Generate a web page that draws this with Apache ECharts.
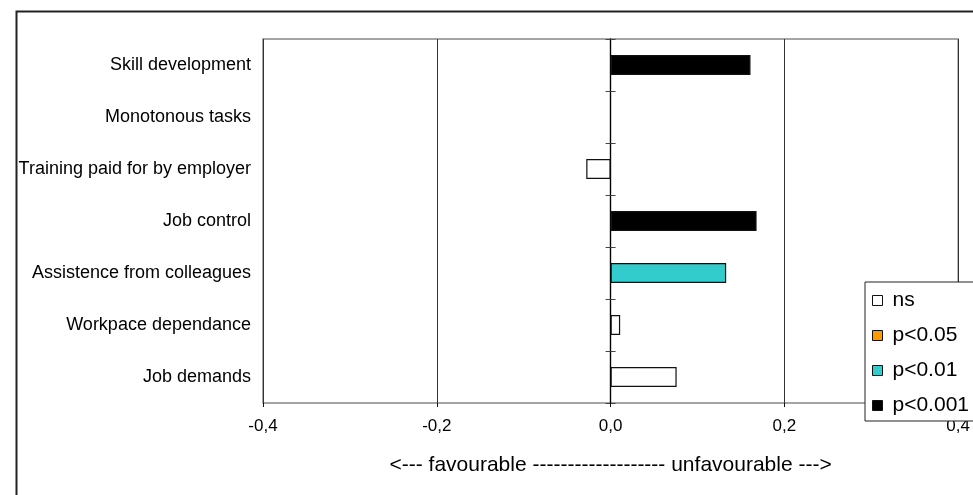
<!DOCTYPE html>
<html>
<head>
<meta charset="utf-8">
<script src="https://cdn.jsdelivr.net/npm/echarts@6/dist/echarts.min.js"></script>
<style>html,body{margin:0;padding:0;background:#fff}#c{width:973px;height:495px}</style>
</head>
<body>
<div id="c"></div>
<script>
// Data (top to bottom)
var categories = ['Skill development', 'Monotonous tasks', 'Training paid for by employer', 'Job control', 'Assistence from colleagues', 'Workpace dependance', 'Job demands'];
var values = [0.161, null, -0.028, 0.168, 0.133, 0.011, 0.076];
var significance = ['p<0.001', 'ns', 'ns', 'p<0.001', 'p<0.01', 'ns', 'ns'];
var classes = ['ns', 'p<0.05', 'p<0.01', 'p<0.001'];
var classColors = ['#ffffff', '#ff9900', '#33cccc', '#000000'];
var xTicks = [-0.4, -0.2, 0.0, 0.2, 0.4];

var chart = echarts.init(document.getElementById('c'));
var fontFam = 'Liberation Sans, Arial, sans-serif';

var series = classes.map(function (cls, ci) {
  return {
    name: cls,
    type: 'bar',
    stack: 'all',
    yAxisIndex: 0,
    barWidth: 20,
    itemStyle: { color: classColors[ci], borderColor: '#111', borderWidth: 1.2 },
    data: values.map(function (v, i) { return (significance[i] === cls && v !== null) ? v : '-'; })
  };
});

var option = {
  animation: false,
  backgroundColor: '#fff',
  textStyle: { fontFamily: fontFam },
  graphic: [{
    type: 'rect', left: 14, top: 9, silent: true, z: -10,
    shape: { width: 1100, height: 700 },
    style: { fill: 'none', stroke: '#222', lineWidth: 2 }
  }],
  grid: {
    left: 263, top: 39, right: 14, bottom: 92,
    show: true, borderColor: '#888', borderWidth: 1.5, backgroundColor: '#fff'
  },
  legend: {
    orient: 'vertical', left: 865, top: 282,
    data: classes.map(function (c) { return { name: c, icon: 'rect' }; }),
    backgroundColor: '#fff', borderColor: '#222', borderWidth: 1,
    padding: [8, 40, 5, 7],
    itemWidth: 10, itemHeight: 10, itemGap: 14,
    selectedMode: false,
    z: 10,
    itemStyle: { borderColor: '#111', borderWidth: 1 },
    textStyle: { fontSize: 21, color: '#000', fontFamily: fontFam, lineHeight: 21, padding: [0, 0, 0, 5] }
  },
  xAxis: {
    type: 'value', min: xTicks[0], max: xTicks[xTicks.length - 1], interval: 0.2,
    axisLine: { onZero: false, lineStyle: { color: '#111', width: 1.2 } },
    axisTick: { show: true, length: 4, lineStyle: { color: '#111' } },
    axisLabel: { color: '#000', fontSize: 17, margin: 15, fontFamily: fontFam,
      formatter: function (v) { return v.toFixed(1).replace('.', ','); } },
    splitLine: { show: true, lineStyle: { color: '#333', width: 1 } },
    name: '<--- favourable ------------------- unfavourable --->',
    nameLocation: 'middle', nameGap: 52,
    nameTextStyle: { fontSize: 21, color: '#000', fontFamily: fontFam }
  },
  yAxis: [{
    type: 'category', data: categories, inverse: true, position: 'left',
    axisLine: { show: false, onZero: false },
    axisTick: { show: false },
    axisLabel: { color: '#000', fontSize: 18, margin: 12, fontFamily: fontFam }
  }, {
    type: 'category', data: categories, inverse: true, position: 'left',
    axisLine: { show: true, onZero: true, onZeroAxisIndex: 0, lineStyle: { color: '#000', width: 1.2 } },
    axisTick: { show: true, length: 5, lineStyle: { color: '#444', width: 1 } },
    axisLabel: { show: false }
  }, {
    type: 'category', data: categories, inverse: true, position: 'right',
    axisLine: { show: true, onZero: true, onZeroAxisIndex: 0, lineStyle: { color: '#000', width: 1.2 } },
    axisTick: { show: true, length: 5, lineStyle: { color: '#444', width: 1 } },
    axisLabel: { show: false }
  }],
  series: series
};
chart.setOption(option);
</script>
</body>
</html>
